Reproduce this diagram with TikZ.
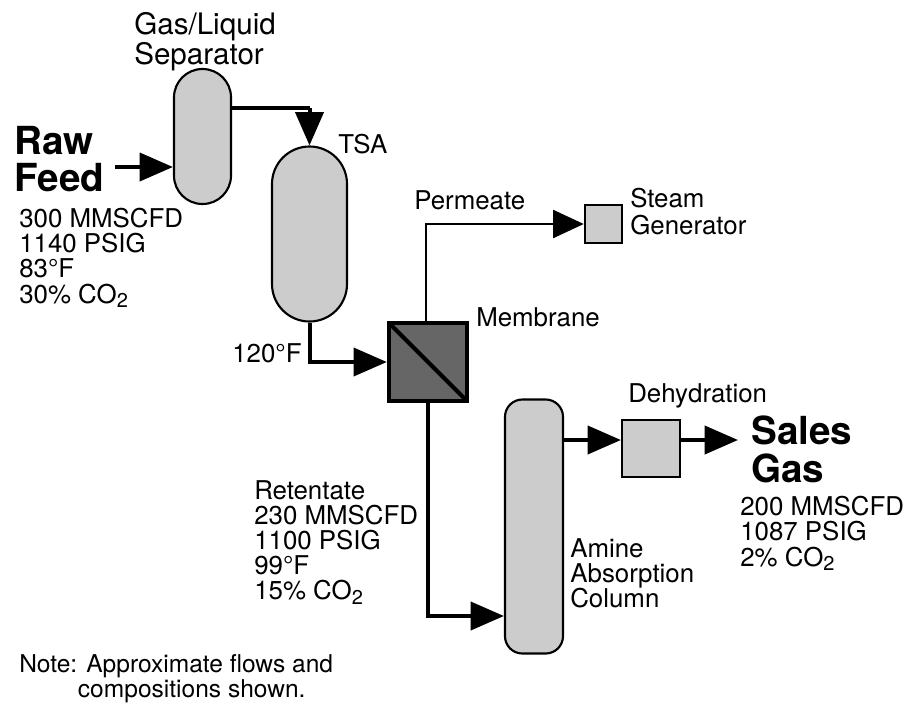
\documentclass[tikz,border=0pt]{standalone}
\usepackage{xcolor}
\usepackage{fontspec}
\setmainfont{TeX Gyre Heros}
\usetikzlibrary{arrows.meta, positioning}
\definecolor{vesselgray}{HTML}{cccccc}
\definecolor{membranegray}{HTML}{666666}
\newcommand{\cotwo}{CO\raisebox{-3.5pt}{\fontsize{15}{15}\selectfont 2}}

\begin{document}
\begin{tikzpicture}[
  x=0.75pt, y=-0.75pt,
  vessel/.style={rectangle, draw=black, fill=vesselgray, line width=1.6pt, inner sep=0pt},
  unitbox/.style={rectangle, draw=black, fill=vesselgray, line width=1.6pt, inner sep=0pt, minimum width=43.5pt, minimum height=43pt},
  label/.style={font=\fontsize{19.4}{18.9}\selectfont, align=left, inner sep=0pt, anchor=north west},
  biglabel/.style={font=\fontsize{29}{28}\selectfont\bfseries, align=left, inner sep=0pt, anchor=north west},
  flow/.style={-{Triangle[length=25pt, width=21pt]}, line width=3pt},
  thinflow/.style={-{Triangle[length=23pt, width=21pt]}, line width=1.6pt},
]
\useasboundingbox (0,0) rectangle (906,704);

\node[vessel, minimum width=42.75pt, minimum height=101.25pt, rounded corners=21.3pt] (sep) at (202.5,136.5) {};
\node[vessel, minimum width=56.25pt, minimum height=131.25pt, rounded corners=28.1pt] (tsa) at (309.5,234) {};
\node[rectangle, draw=black, fill=membranegray, line width=3.2pt, minimum width=58.5pt, minimum height=58.5pt, inner sep=0pt] (mem) at (428,362) {};
\node[unitbox, minimum width=28pt, minimum height=28.5pt] (steam) at (603.5,224) {};
\node[vessel, minimum width=43.5pt, minimum height=190.5pt, rounded corners=13pt] (col) at (534,526.5) {};
\node[unitbox] (dehy) at (651,448.5) {};

\coordinate (feedin) at (115,167);
\coordinate (salesout) at (738,440);

\draw[line width=3pt, shorten >=2pt, shorten <=2pt] (mem.north west) -- (mem.south east);

\draw[flow] (feedin) -- (feedin -| sep.west);
\draw[line width=3pt] (sep.east |- 0,108) -- (tsa.north |- 0,108);
\draw[flow] (tsa.north |- 0,108) -- (tsa.north);
\draw[flow] (tsa.south) |- (mem.west);
\draw[thinflow] (mem.north -| 426,0) |- (steam.west);
\draw[flow] (mem.south) |- (col.west |- 0,616);
\draw[flow] (col.east |- 0,440) -- (dehy.west |- 0,440);
\draw[flow] (dehy.east |- 0,440) -- (salesout);

\node[label, font=\fontsize{22.2}{21}\selectfont] (seplabel) at (134,12) {Gas/Liquid\\Separator};
\node[biglabel] (rawfeed) at (14,126) {Raw\\Feed};
\node[label] (feeddata) at (19,208) {300 MMSCFD\\1140 PSIG\\83°F\\30\% \cotwo};
\node[label] (tsalabel) at (338,134) {TSA};
\node[label] (permlabel) at (414,190) {Permeate};
\node[label, font=\fontsize{19.4}{20}\selectfont] (steamlabel) at (630,188) {Steam\\Generator};
\node[label] (memlabel) at (476,307) {Membrane};
\node[label] (templabel) at (232,343) {120°F};
\node[label] (dehylabel) at (628,383) {Dehydration};
\node[biglabel] (salesgas) at (751,416) {Sales\\Gas};
\node[label] (salesdata) at (740,496) {200 MMSCFD\\1087 PSIG\\2\% \cotwo};
\node[label] (retlabel) at (254,480) {Retentate\\230 MMSCFD\\1100 PSIG\\99°F\\15\% \cotwo};
\node[label] (collabel) at (570,538) {Amine\\Absorption\\Column};
\node[label, font=\fontsize{18.4}{19}\selectfont] (notelabel) at (19,654) {Note: Approximate flows and\\\hspace{44pt}compositions shown.};
\end{tikzpicture}
\end{document}
